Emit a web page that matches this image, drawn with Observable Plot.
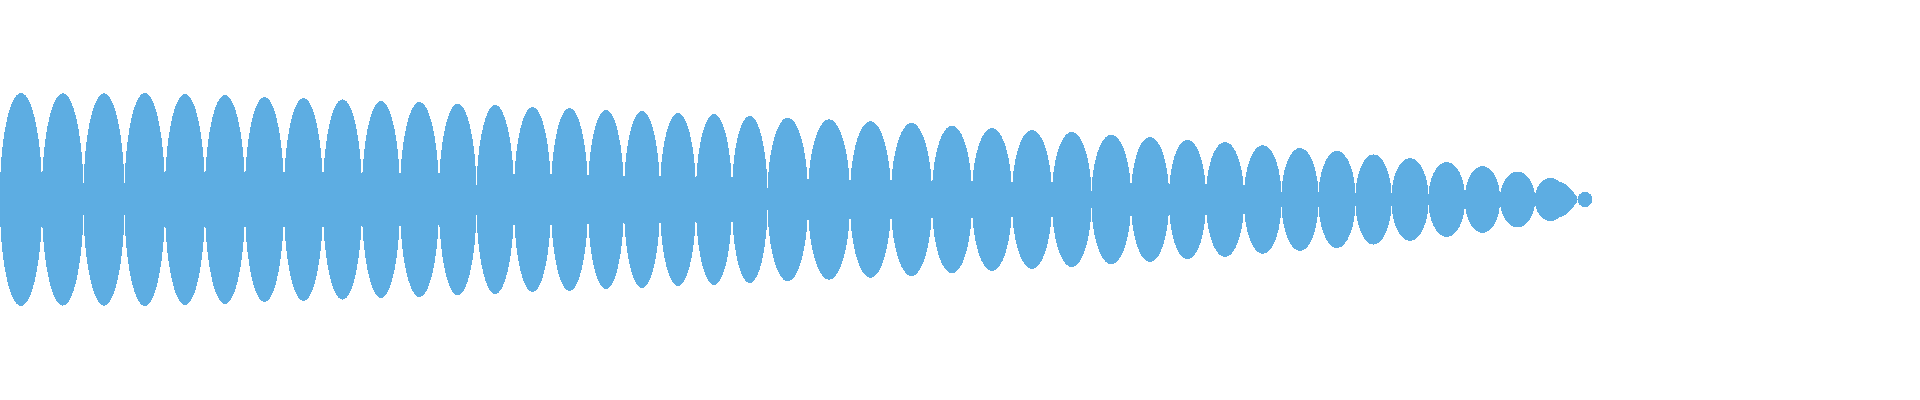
<!DOCTYPE html>
<html>
<head>
<meta charset="utf-8">
<script src="https://cdn.jsdelivr.net/npm/d3@7"></script>
<script src="https://cdn.jsdelivr.net/npm/@observablehq/plot@0.6"></script>
<style>
  html, body { margin: 0; padding: 0; background: #ffffff; }
  #chart svg { display: block; }
</style>
</head>
<body>
<div id="chart"></div>
<script>
// Lobe boundaries (x position along the waveform)
const edges = [0, 42, 83.5, 124.5, 165, 205, 245, 284, 323, 362, 400, 439, 476.5, 514, 551, 588,
  624, 660, 696, 732, 767.5, 808, 850, 891, 932, 972, 1012, 1052, 1091.5, 1131, 1169, 1206,
  1244, 1281.5, 1318.5, 1355.5, 1391.5, 1428.5, 1465, 1500, 1535, 1566];
// Peak amplitude of each lobe (symmetric about zero)
const amplitude = [106.5, 106.2, 106.2, 106.5, 105.5, 104.5, 102.5, 101.5, 100.2, 98.5,
  97.5, 95.8, 94.5, 92.5, 91.5, 89.5, 88.5, 86.5, 85.5, 83.5,
  81.8, 80.2, 78.2, 76.5, 73.8, 71.5, 69.5, 67.5, 64.8, 62.5,
  59.8, 57.5, 54.2, 51.5, 48.5, 45.2, 41.5, 37.5, 33.5, 27.8, 21.5];
// Decaying tail after the last lobe
const tailX = [1552, 1558, 1563, 1565, 1571, 1577];
const tailAmp = [20, 18.5, 16.5, 15.5, 10, 3];
// Final isolated blip
const blipEdges = [1577.5, 1592.5];
const blipAmp = [7.5];

const lobes = amplitude.map((a, i) => ({x1: edges[i], x2: edges[i + 1], a}));
const blip = blipAmp.map((a, i) => ({x1: blipEdges[i], x2: blipEdges[i + 1], a}));
const tail = tailX.map((x, i) => ({x, a: tailAmp[i]}));

const color = "#5dade2";

const chart = Plot.plot({
  width: 1920,
  height: 400,
  margin: 0,
  x: {domain: [0, 1920], axis: null},
  y: {domain: [-200.5, 199.5], axis: null},
  marks: [
    Plot.areaY(tail, {x: "x", y1: d => -d.a, y2: d => d.a, fill: color, curve: "linear", shapeRendering: "crispEdges"}),
    Plot.rect(lobes, {x1: "x1", x2: "x2", y1: d => -d.a, y2: d => d.a, fill: color, rx: 1000, ry: 1000,
      insetLeft: -0.25, insetRight: -0.25, shapeRendering: "crispEdges"}),
    Plot.rect(blip, {x1: "x1", x2: "x2", y1: d => -d.a, y2: d => d.a, fill: color, rx: 1000, ry: 1000,
      shapeRendering: "crispEdges"})
  ]
});
document.getElementById("chart").append(chart);
</script>
</body>
</html>
